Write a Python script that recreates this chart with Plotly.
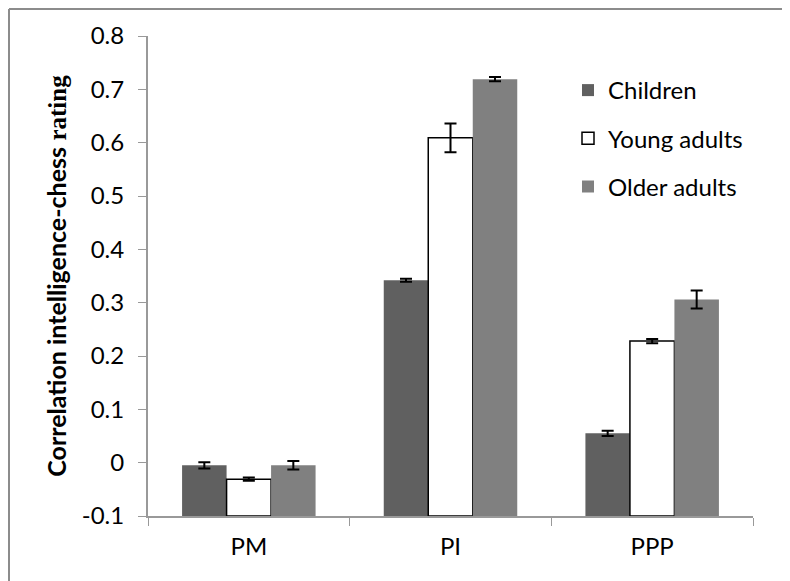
import plotly.graph_objects as go

categories = ["PM", "PI", "PPP"]
series_names = ["Children", "Young adults", "Older adults"]
children = [-0.005, 0.342, 0.055]
children_err = [0.006, 0.003, 0.005]
young = [-0.031, 0.609, 0.228]
young_err = [0.003, 0.027, 0.004]
older = [-0.005, 0.719, 0.306]
older_err = [0.008, 0.004, 0.017]
y_ticks = [-0.1, 0, 0.1, 0.2, 0.3, 0.4, 0.5, 0.6, 0.7, 0.8]
y_tick_labels = ["-0.1", "0", "0.1", "0.2", "0.3", "0.4", "0.5", "0.6", "0.7", "0.8"]
axis_floor = -0.1  # bars grow up from the horizontal axis, which crosses at -0.1

FONT = "Lato"
OFF = 8  # page body margin
W, H = 790 - OFF, 581 - OFF
L, R, T, B = 148 - OFF, 37, 36 - OFF, 65

fig = go.Figure()
styles = [
    dict(color="#606060", line=dict(width=0)),
    dict(color="#ffffff", line=dict(color="#000000", width=1.5)),
    dict(color="#808080", line=dict(width=0)),
]
for name, vals, errs, st in zip(series_names, [children, young, older],
                                 [children_err, young_err, older_err], styles):
    fig.add_trace(go.Bar(
        x=categories, y=[v - axis_floor for v in vals], base=axis_floor,
        name=name, marker=st, legendgroup=name,
        error_y=dict(type="data", array=errs, visible=True,
                     color="#000000", thickness=2, width=6),
    ))

pw = W - L - R
ph = H - T - B
px0 = L + OFF  # pixel x of plot left
py1 = T + OFF + ph  # pixel y of plot bottom


def xp(px):
    return (px - px0) / pw


def yp(py):
    return (py1 - py) / ph


fig.update_layout(
    width=W, height=H,
    margin=dict(l=L, r=R, t=T, b=B),
    paper_bgcolor="white", plot_bgcolor="white",
    barmode="group", bargap=0.338, bargroupgap=0,
    font=dict(family=FONT, size=24, color="#000000"),
    legend=dict(x=xp(568), y=yp(68), xanchor="left", yanchor="top",
                font=dict(family=FONT, size=24, color="#000000"),
                traceorder="grouped", tracegroupgap=14,
                bgcolor="rgba(0,0,0,0)"),
    xaxis=dict(
        type="category", tickson="boundaries", ticks="outside", ticklen=8,
        tickcolor="#999999", showline=True, linecolor="#999999", linewidth=2,
        showgrid=False, ticklabelstandoff=8,
        tickfont=dict(family=FONT, size=24, color="#000000"),
    ),
    yaxis=dict(
        range=[-0.1, 0.8], tickvals=y_ticks, ticktext=y_tick_labels,
        ticks="outside", ticklen=8, tickcolor="#999999",
        showline=True, linecolor="#999999", linewidth=2,
        showgrid=False, zeroline=False, ticklabelstandoff=9,
        tickfont=dict(family=FONT, size=24, color="#000000"),
        title=dict(
            text="<b>Correlation intelligence-chess</b> <span style=\"font-family:'Liberation Serif';font-weight:bold\">rating</span>",
            font=dict(family=FONT, size=25, color="#000000"), standoff=8),
    ),
    shapes=[
        dict(type="line", xref="paper", yref="paper", x0=xp(9), x1=1.2, y0=yp(9), y1=yp(9),
             line=dict(color="#8c8c8c", width=2)),
        dict(type="line", xref="paper", yref="paper", x0=xp(9), x1=xp(9), y0=yp(9), y1=-0.3,
             line=dict(color="#8c8c8c", width=2)),
    ],
)

fig.write_html("out.html")
